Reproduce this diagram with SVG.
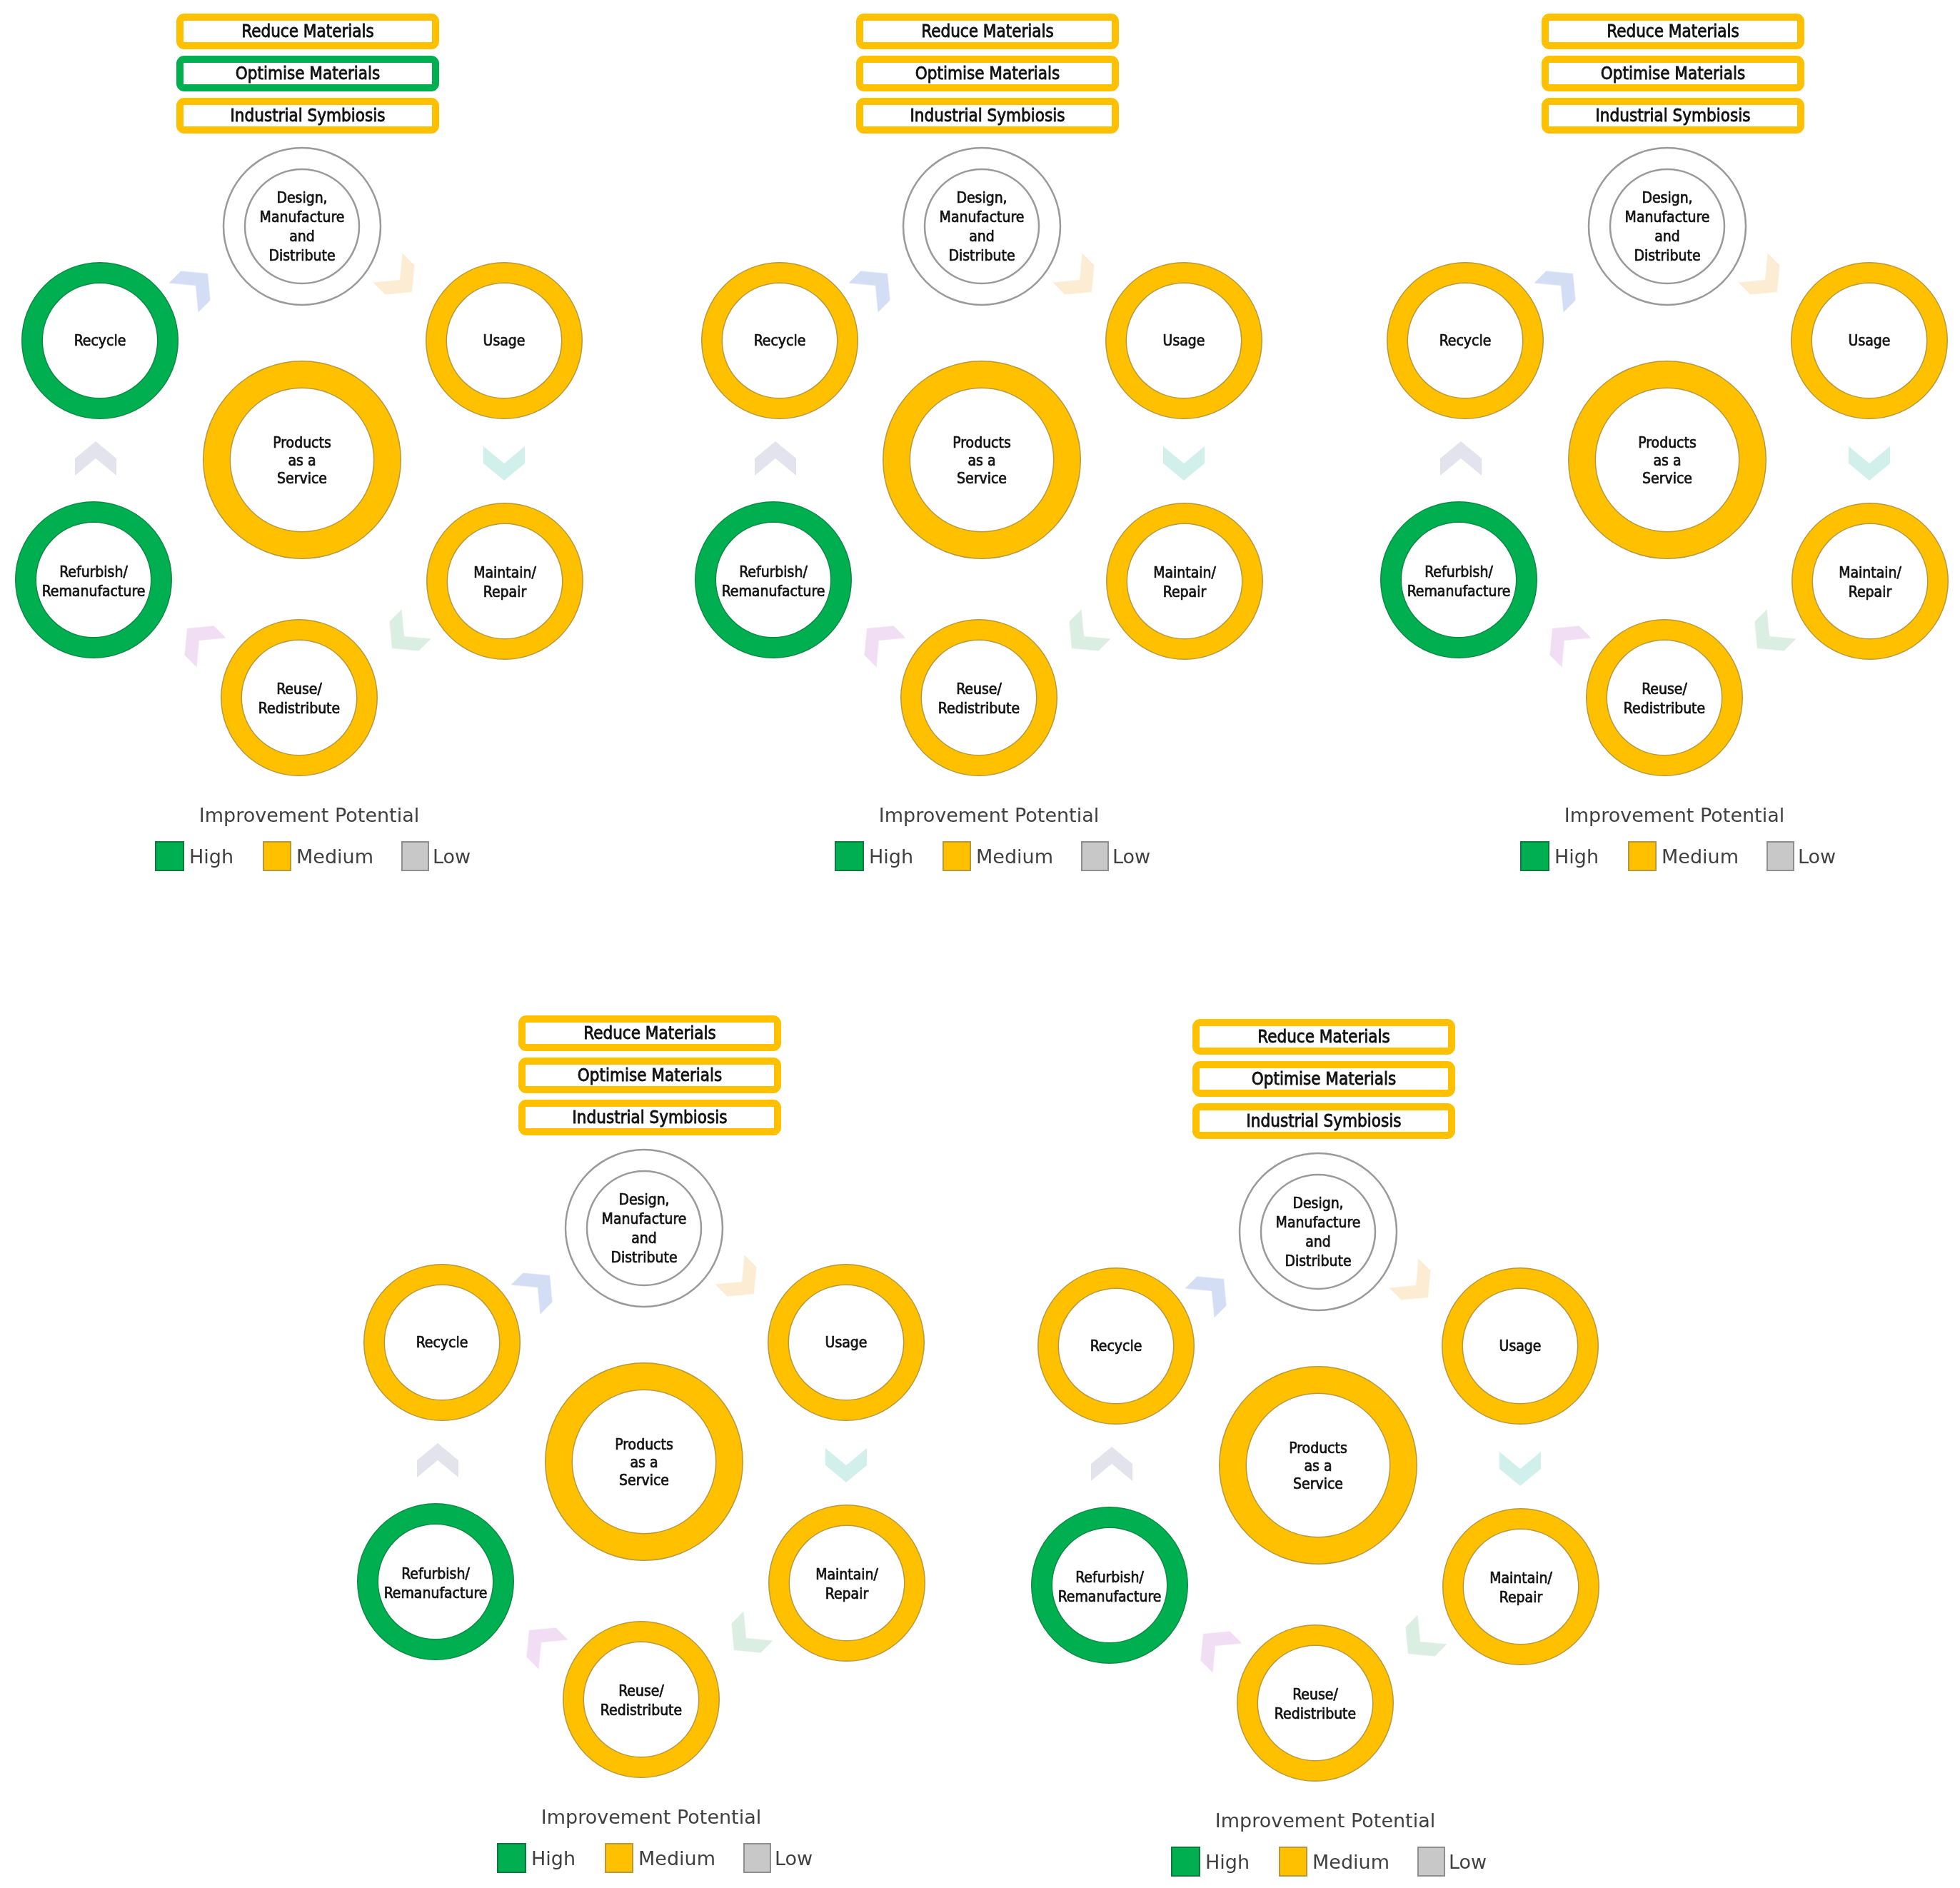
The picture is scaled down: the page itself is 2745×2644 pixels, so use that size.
<svg xmlns="http://www.w3.org/2000/svg" xmlns:xlink="http://www.w3.org/1999/xlink" width="2745" height="2644" viewBox="0 0 2745 2644">
<style>
.bo{fill:#fff;stroke:#ffc000;stroke-width:10}
.bg{fill:#fff;stroke:#00b050;stroke-width:10}
.bt{font-family:"DejaVu Sans Condensed","DejaVu Sans",sans-serif;font-stretch:condensed;font-size:24px;text-anchor:middle;fill:#111;stroke:#111;stroke-width:0.8px}
.nt{font-family:"DejaVu Sans Condensed","DejaVu Sans",sans-serif;font-stretch:condensed;font-size:21px;text-anchor:middle;fill:#111;stroke:#111;stroke-width:0.7px}
.d{fill:#fff;stroke:#9a9a9a;stroke-width:2.5}
.o1{fill:#fff;stroke:#b8983a;stroke-width:30}
.o2{fill:none;stroke:#ffc000;stroke-width:27}
.g1{fill:#fff;stroke:#0b8a44;stroke-width:30}
.g2{fill:none;stroke:#00b050;stroke-width:27}
.p1{fill:#fff;stroke:#b8983a;stroke-width:39}
.p2{fill:none;stroke:#ffc000;stroke-width:36}
.lt{font-family:"DejaVu Sans",sans-serif;font-size:27px;fill:#404040}
.ltc{font-family:"DejaVu Sans",sans-serif;font-size:27px;fill:#404040;text-anchor:middle}
.sh{fill:#00b050;stroke:#0b7a3c;stroke-width:2}
.sm{fill:#ffc000;stroke:#b8983a;stroke-width:2}
.sl{fill:#c8c8c8;stroke:#8f8f8f;stroke-width:2}
.cx{opacity:0.8}
</style>
<defs>
<path id="chev" d="M-29,-24 L0,0 L29,-24 L29,0 L0,24 L-29,0 Z"/>
</defs>
<rect x="0" y="0" width="2745" height="2644" fill="#fff"/>

<g id="panel1" transform="translate(0,0)">
 <g id="p1-connectors" class="cx">
  <use xlink:href="#chev" transform="translate(274,400) rotate(-135)" fill="#c9d6f3"/>
  <use xlink:href="#chev" transform="translate(560,392) rotate(-45)" fill="#fbe8c8"/>
  <use xlink:href="#chev" transform="translate(706,649)" fill="#c6ede7"/>
  <use xlink:href="#chev" transform="translate(566,891) rotate(45)" fill="#d2eadb"/>
  <use xlink:href="#chev" transform="translate(279,897) rotate(135)" fill="#eed5f2"/>
  <use xlink:href="#chev" transform="translate(134,642) rotate(180)" fill="#dddde9"/>
 </g>
 <g id="p1-reduce"><rect class="bo" x="252" y="24" width="358" height="40" rx="6"/><text class="bt" x="431" y="52">Reduce Materials</text></g>
 <g id="p1-optimise"><rect class="bg" x="252" y="83" width="358" height="40" rx="6"/><text class="bt" x="431" y="111">Optimise Materials</text></g>
 <g id="p1-symbiosis"><rect class="bo" x="252" y="142" width="358" height="40" rx="6"/><text class="bt" x="431" y="170">Industrial Symbiosis</text></g>
 <g id="p1-design"><circle class="d" cx="423" cy="317" r="110"/><circle class="d" cx="423" cy="317" r="80"/>
  <text class="nt" x="423" y="284">Design,</text><text class="nt" x="423" y="311">Manufacture</text><text class="nt" x="423" y="338">and</text><text class="nt" x="423" y="365">Distribute</text></g>
 <g id="p1-usage"><circle class="o1" cx="706" cy="477" r="95"/><circle class="o2" cx="706" cy="477" r="95"/><text class="nt" x="706" y="484">Usage</text></g>
 <g id="p1-maintain"><circle class="o1" cx="707" cy="814" r="95"/><circle class="o2" cx="707" cy="814" r="95"/><text class="nt" x="707" y="809">Maintain/</text><text class="nt" x="707" y="836">Repair</text></g>
 <g id="p1-reuse"><circle class="o1" cx="419" cy="977" r="95"/><circle class="o2" cx="419" cy="977" r="95"/><text class="nt" x="419" y="972">Reuse/</text><text class="nt" x="419" y="999">Redistribute</text></g>
 <g id="p1-refurbish"><circle class="g1" cx="131" cy="812" r="95"/><circle class="g2" cx="131" cy="812" r="95"/><text class="nt" x="131" y="808">Refurbish/</text><text class="nt" x="131" y="835">Remanufacture</text></g>
 <g id="p1-recycle"><circle class="g1" cx="140" cy="477" r="95"/><circle class="g2" cx="140" cy="477" r="95"/><text class="nt" x="140" y="484">Recycle</text></g>
 <g id="p1-paas"><circle class="p1" cx="423" cy="644" r="119.5"/><circle class="p2" cx="423" cy="644" r="119.5"/><text class="nt" x="423" y="627">Products</text><text class="nt" x="423" y="652">as a</text><text class="nt" x="423" y="677">Service</text></g>
 <g id="p1-legend"><text class="ltc" x="433" y="1151">Improvement Potential</text>
  <rect class="sh" x="218" y="1179" width="39" height="40"/><text class="lt" x="265" y="1209">High</text>
  <rect class="sm" x="369" y="1179" width="38" height="40"/><text class="lt" x="415" y="1209">Medium</text>
  <rect class="sl" x="563" y="1179" width="37" height="40"/><text class="lt" x="606" y="1209">Low</text></g>
</g>

<g id="panel2" transform="translate(952,0)">
 <g id="p2-connectors" class="cx">
  <use xlink:href="#chev" transform="translate(274,400) rotate(-135)" fill="#c9d6f3"/>
  <use xlink:href="#chev" transform="translate(560,392) rotate(-45)" fill="#fbe8c8"/>
  <use xlink:href="#chev" transform="translate(706,649)" fill="#c6ede7"/>
  <use xlink:href="#chev" transform="translate(566,891) rotate(45)" fill="#d2eadb"/>
  <use xlink:href="#chev" transform="translate(279,897) rotate(135)" fill="#eed5f2"/>
  <use xlink:href="#chev" transform="translate(134,642) rotate(180)" fill="#dddde9"/>
 </g>
 <g id="p2-reduce"><rect class="bo" x="252" y="24" width="358" height="40" rx="6"/><text class="bt" x="431" y="52">Reduce Materials</text></g>
 <g id="p2-optimise"><rect class="bo" x="252" y="83" width="358" height="40" rx="6"/><text class="bt" x="431" y="111">Optimise Materials</text></g>
 <g id="p2-symbiosis"><rect class="bo" x="252" y="142" width="358" height="40" rx="6"/><text class="bt" x="431" y="170">Industrial Symbiosis</text></g>
 <g id="p2-design"><circle class="d" cx="423" cy="317" r="110"/><circle class="d" cx="423" cy="317" r="80"/>
  <text class="nt" x="423" y="284">Design,</text><text class="nt" x="423" y="311">Manufacture</text><text class="nt" x="423" y="338">and</text><text class="nt" x="423" y="365">Distribute</text></g>
 <g id="p2-usage"><circle class="o1" cx="706" cy="477" r="95"/><circle class="o2" cx="706" cy="477" r="95"/><text class="nt" x="706" y="484">Usage</text></g>
 <g id="p2-maintain"><circle class="o1" cx="707" cy="814" r="95"/><circle class="o2" cx="707" cy="814" r="95"/><text class="nt" x="707" y="809">Maintain/</text><text class="nt" x="707" y="836">Repair</text></g>
 <g id="p2-reuse"><circle class="o1" cx="419" cy="977" r="95"/><circle class="o2" cx="419" cy="977" r="95"/><text class="nt" x="419" y="972">Reuse/</text><text class="nt" x="419" y="999">Redistribute</text></g>
 <g id="p2-refurbish"><circle class="g1" cx="131" cy="812" r="95"/><circle class="g2" cx="131" cy="812" r="95"/><text class="nt" x="131" y="808">Refurbish/</text><text class="nt" x="131" y="835">Remanufacture</text></g>
 <g id="p2-recycle"><circle class="o1" cx="140" cy="477" r="95"/><circle class="o2" cx="140" cy="477" r="95"/><text class="nt" x="140" y="484">Recycle</text></g>
 <g id="p2-paas"><circle class="p1" cx="423" cy="644" r="119.5"/><circle class="p2" cx="423" cy="644" r="119.5"/><text class="nt" x="423" y="627">Products</text><text class="nt" x="423" y="652">as a</text><text class="nt" x="423" y="677">Service</text></g>
 <g id="p2-legend"><text class="ltc" x="433" y="1151">Improvement Potential</text>
  <rect class="sh" x="218" y="1179" width="39" height="40"/><text class="lt" x="265" y="1209">High</text>
  <rect class="sm" x="369" y="1179" width="38" height="40"/><text class="lt" x="415" y="1209">Medium</text>
  <rect class="sl" x="563" y="1179" width="37" height="40"/><text class="lt" x="606" y="1209">Low</text></g>
</g>

<g id="panel3" transform="translate(1912,0)">
 <g id="p3-connectors" class="cx">
  <use xlink:href="#chev" transform="translate(274,400) rotate(-135)" fill="#c9d6f3"/>
  <use xlink:href="#chev" transform="translate(560,392) rotate(-45)" fill="#fbe8c8"/>
  <use xlink:href="#chev" transform="translate(706,649)" fill="#c6ede7"/>
  <use xlink:href="#chev" transform="translate(566,891) rotate(45)" fill="#d2eadb"/>
  <use xlink:href="#chev" transform="translate(279,897) rotate(135)" fill="#eed5f2"/>
  <use xlink:href="#chev" transform="translate(134,642) rotate(180)" fill="#dddde9"/>
 </g>
 <g id="p3-reduce"><rect class="bo" x="252" y="24" width="358" height="40" rx="6"/><text class="bt" x="431" y="52">Reduce Materials</text></g>
 <g id="p3-optimise"><rect class="bo" x="252" y="83" width="358" height="40" rx="6"/><text class="bt" x="431" y="111">Optimise Materials</text></g>
 <g id="p3-symbiosis"><rect class="bo" x="252" y="142" width="358" height="40" rx="6"/><text class="bt" x="431" y="170">Industrial Symbiosis</text></g>
 <g id="p3-design"><circle class="d" cx="423" cy="317" r="110"/><circle class="d" cx="423" cy="317" r="80"/>
  <text class="nt" x="423" y="284">Design,</text><text class="nt" x="423" y="311">Manufacture</text><text class="nt" x="423" y="338">and</text><text class="nt" x="423" y="365">Distribute</text></g>
 <g id="p3-usage"><circle class="o1" cx="706" cy="477" r="95"/><circle class="o2" cx="706" cy="477" r="95"/><text class="nt" x="706" y="484">Usage</text></g>
 <g id="p3-maintain"><circle class="o1" cx="707" cy="814" r="95"/><circle class="o2" cx="707" cy="814" r="95"/><text class="nt" x="707" y="809">Maintain/</text><text class="nt" x="707" y="836">Repair</text></g>
 <g id="p3-reuse"><circle class="o1" cx="419" cy="977" r="95"/><circle class="o2" cx="419" cy="977" r="95"/><text class="nt" x="419" y="972">Reuse/</text><text class="nt" x="419" y="999">Redistribute</text></g>
 <g id="p3-refurbish"><circle class="g1" cx="131" cy="812" r="95"/><circle class="g2" cx="131" cy="812" r="95"/><text class="nt" x="131" y="808">Refurbish/</text><text class="nt" x="131" y="835">Remanufacture</text></g>
 <g id="p3-recycle"><circle class="o1" cx="140" cy="477" r="95"/><circle class="o2" cx="140" cy="477" r="95"/><text class="nt" x="140" y="484">Recycle</text></g>
 <g id="p3-paas"><circle class="p1" cx="423" cy="644" r="119.5"/><circle class="p2" cx="423" cy="644" r="119.5"/><text class="nt" x="423" y="627">Products</text><text class="nt" x="423" y="652">as a</text><text class="nt" x="423" y="677">Service</text></g>
 <g id="p3-legend"><text class="ltc" x="433" y="1151">Improvement Potential</text>
  <rect class="sh" x="218" y="1179" width="39" height="40"/><text class="lt" x="265" y="1209">High</text>
  <rect class="sm" x="369" y="1179" width="38" height="40"/><text class="lt" x="415" y="1209">Medium</text>
  <rect class="sl" x="563" y="1179" width="37" height="40"/><text class="lt" x="606" y="1209">Low</text></g>
</g>

<g id="panel4" transform="translate(479,1403)">
 <g id="p4-connectors" class="cx">
  <use xlink:href="#chev" transform="translate(274,400) rotate(-135)" fill="#c9d6f3"/>
  <use xlink:href="#chev" transform="translate(560,392) rotate(-45)" fill="#fbe8c8"/>
  <use xlink:href="#chev" transform="translate(706,649)" fill="#c6ede7"/>
  <use xlink:href="#chev" transform="translate(566,891) rotate(45)" fill="#d2eadb"/>
  <use xlink:href="#chev" transform="translate(279,897) rotate(135)" fill="#eed5f2"/>
  <use xlink:href="#chev" transform="translate(134,642) rotate(180)" fill="#dddde9"/>
 </g>
 <g id="p4-reduce"><rect class="bo" x="252" y="24" width="358" height="40" rx="6"/><text class="bt" x="431" y="52">Reduce Materials</text></g>
 <g id="p4-optimise"><rect class="bo" x="252" y="83" width="358" height="40" rx="6"/><text class="bt" x="431" y="111">Optimise Materials</text></g>
 <g id="p4-symbiosis"><rect class="bo" x="252" y="142" width="358" height="40" rx="6"/><text class="bt" x="431" y="170">Industrial Symbiosis</text></g>
 <g id="p4-design"><circle class="d" cx="423" cy="317" r="110"/><circle class="d" cx="423" cy="317" r="80"/>
  <text class="nt" x="423" y="284">Design,</text><text class="nt" x="423" y="311">Manufacture</text><text class="nt" x="423" y="338">and</text><text class="nt" x="423" y="365">Distribute</text></g>
 <g id="p4-usage"><circle class="o1" cx="706" cy="477" r="95"/><circle class="o2" cx="706" cy="477" r="95"/><text class="nt" x="706" y="484">Usage</text></g>
 <g id="p4-maintain"><circle class="o1" cx="707" cy="814" r="95"/><circle class="o2" cx="707" cy="814" r="95"/><text class="nt" x="707" y="809">Maintain/</text><text class="nt" x="707" y="836">Repair</text></g>
 <g id="p4-reuse"><circle class="o1" cx="419" cy="977" r="95"/><circle class="o2" cx="419" cy="977" r="95"/><text class="nt" x="419" y="972">Reuse/</text><text class="nt" x="419" y="999">Redistribute</text></g>
 <g id="p4-refurbish"><circle class="g1" cx="131" cy="812" r="95"/><circle class="g2" cx="131" cy="812" r="95"/><text class="nt" x="131" y="808">Refurbish/</text><text class="nt" x="131" y="835">Remanufacture</text></g>
 <g id="p4-recycle"><circle class="o1" cx="140" cy="477" r="95"/><circle class="o2" cx="140" cy="477" r="95"/><text class="nt" x="140" y="484">Recycle</text></g>
 <g id="p4-paas"><circle class="p1" cx="423" cy="644" r="119.5"/><circle class="p2" cx="423" cy="644" r="119.5"/><text class="nt" x="423" y="627">Products</text><text class="nt" x="423" y="652">as a</text><text class="nt" x="423" y="677">Service</text></g>
 <g id="p4-legend"><text class="ltc" x="433" y="1151">Improvement Potential</text>
  <rect class="sh" x="218" y="1179" width="39" height="40"/><text class="lt" x="265" y="1209">High</text>
  <rect class="sm" x="369" y="1179" width="38" height="40"/><text class="lt" x="415" y="1209">Medium</text>
  <rect class="sl" x="563" y="1179" width="37" height="40"/><text class="lt" x="606" y="1209">Low</text></g>
</g>

<g id="panel5" transform="translate(1423,1408)">
 <g id="p5-connectors" class="cx">
  <use xlink:href="#chev" transform="translate(274,400) rotate(-135)" fill="#c9d6f3"/>
  <use xlink:href="#chev" transform="translate(560,392) rotate(-45)" fill="#fbe8c8"/>
  <use xlink:href="#chev" transform="translate(706,649)" fill="#c6ede7"/>
  <use xlink:href="#chev" transform="translate(566,891) rotate(45)" fill="#d2eadb"/>
  <use xlink:href="#chev" transform="translate(279,897) rotate(135)" fill="#eed5f2"/>
  <use xlink:href="#chev" transform="translate(134,642) rotate(180)" fill="#dddde9"/>
 </g>
 <g id="p5-reduce"><rect class="bo" x="252" y="24" width="358" height="40" rx="6"/><text class="bt" x="431" y="52">Reduce Materials</text></g>
 <g id="p5-optimise"><rect class="bo" x="252" y="83" width="358" height="40" rx="6"/><text class="bt" x="431" y="111">Optimise Materials</text></g>
 <g id="p5-symbiosis"><rect class="bo" x="252" y="142" width="358" height="40" rx="6"/><text class="bt" x="431" y="170">Industrial Symbiosis</text></g>
 <g id="p5-design"><circle class="d" cx="423" cy="317" r="110"/><circle class="d" cx="423" cy="317" r="80"/>
  <text class="nt" x="423" y="284">Design,</text><text class="nt" x="423" y="311">Manufacture</text><text class="nt" x="423" y="338">and</text><text class="nt" x="423" y="365">Distribute</text></g>
 <g id="p5-usage"><circle class="o1" cx="706" cy="477" r="95"/><circle class="o2" cx="706" cy="477" r="95"/><text class="nt" x="706" y="484">Usage</text></g>
 <g id="p5-maintain"><circle class="o1" cx="707" cy="814" r="95"/><circle class="o2" cx="707" cy="814" r="95"/><text class="nt" x="707" y="809">Maintain/</text><text class="nt" x="707" y="836">Repair</text></g>
 <g id="p5-reuse"><circle class="o1" cx="419" cy="977" r="95"/><circle class="o2" cx="419" cy="977" r="95"/><text class="nt" x="419" y="972">Reuse/</text><text class="nt" x="419" y="999">Redistribute</text></g>
 <g id="p5-refurbish"><circle class="g1" cx="131" cy="812" r="95"/><circle class="g2" cx="131" cy="812" r="95"/><text class="nt" x="131" y="808">Refurbish/</text><text class="nt" x="131" y="835">Remanufacture</text></g>
 <g id="p5-recycle"><circle class="o1" cx="140" cy="477" r="95"/><circle class="o2" cx="140" cy="477" r="95"/><text class="nt" x="140" y="484">Recycle</text></g>
 <g id="p5-paas"><circle class="p1" cx="423" cy="644" r="119.5"/><circle class="p2" cx="423" cy="644" r="119.5"/><text class="nt" x="423" y="627">Products</text><text class="nt" x="423" y="652">as a</text><text class="nt" x="423" y="677">Service</text></g>
 <g id="p5-legend"><text class="ltc" x="433" y="1151">Improvement Potential</text>
  <rect class="sh" x="218" y="1179" width="39" height="40"/><text class="lt" x="265" y="1209">High</text>
  <rect class="sm" x="369" y="1179" width="38" height="40"/><text class="lt" x="415" y="1209">Medium</text>
  <rect class="sl" x="563" y="1179" width="37" height="40"/><text class="lt" x="606" y="1209">Low</text></g>
</g>
</svg>
